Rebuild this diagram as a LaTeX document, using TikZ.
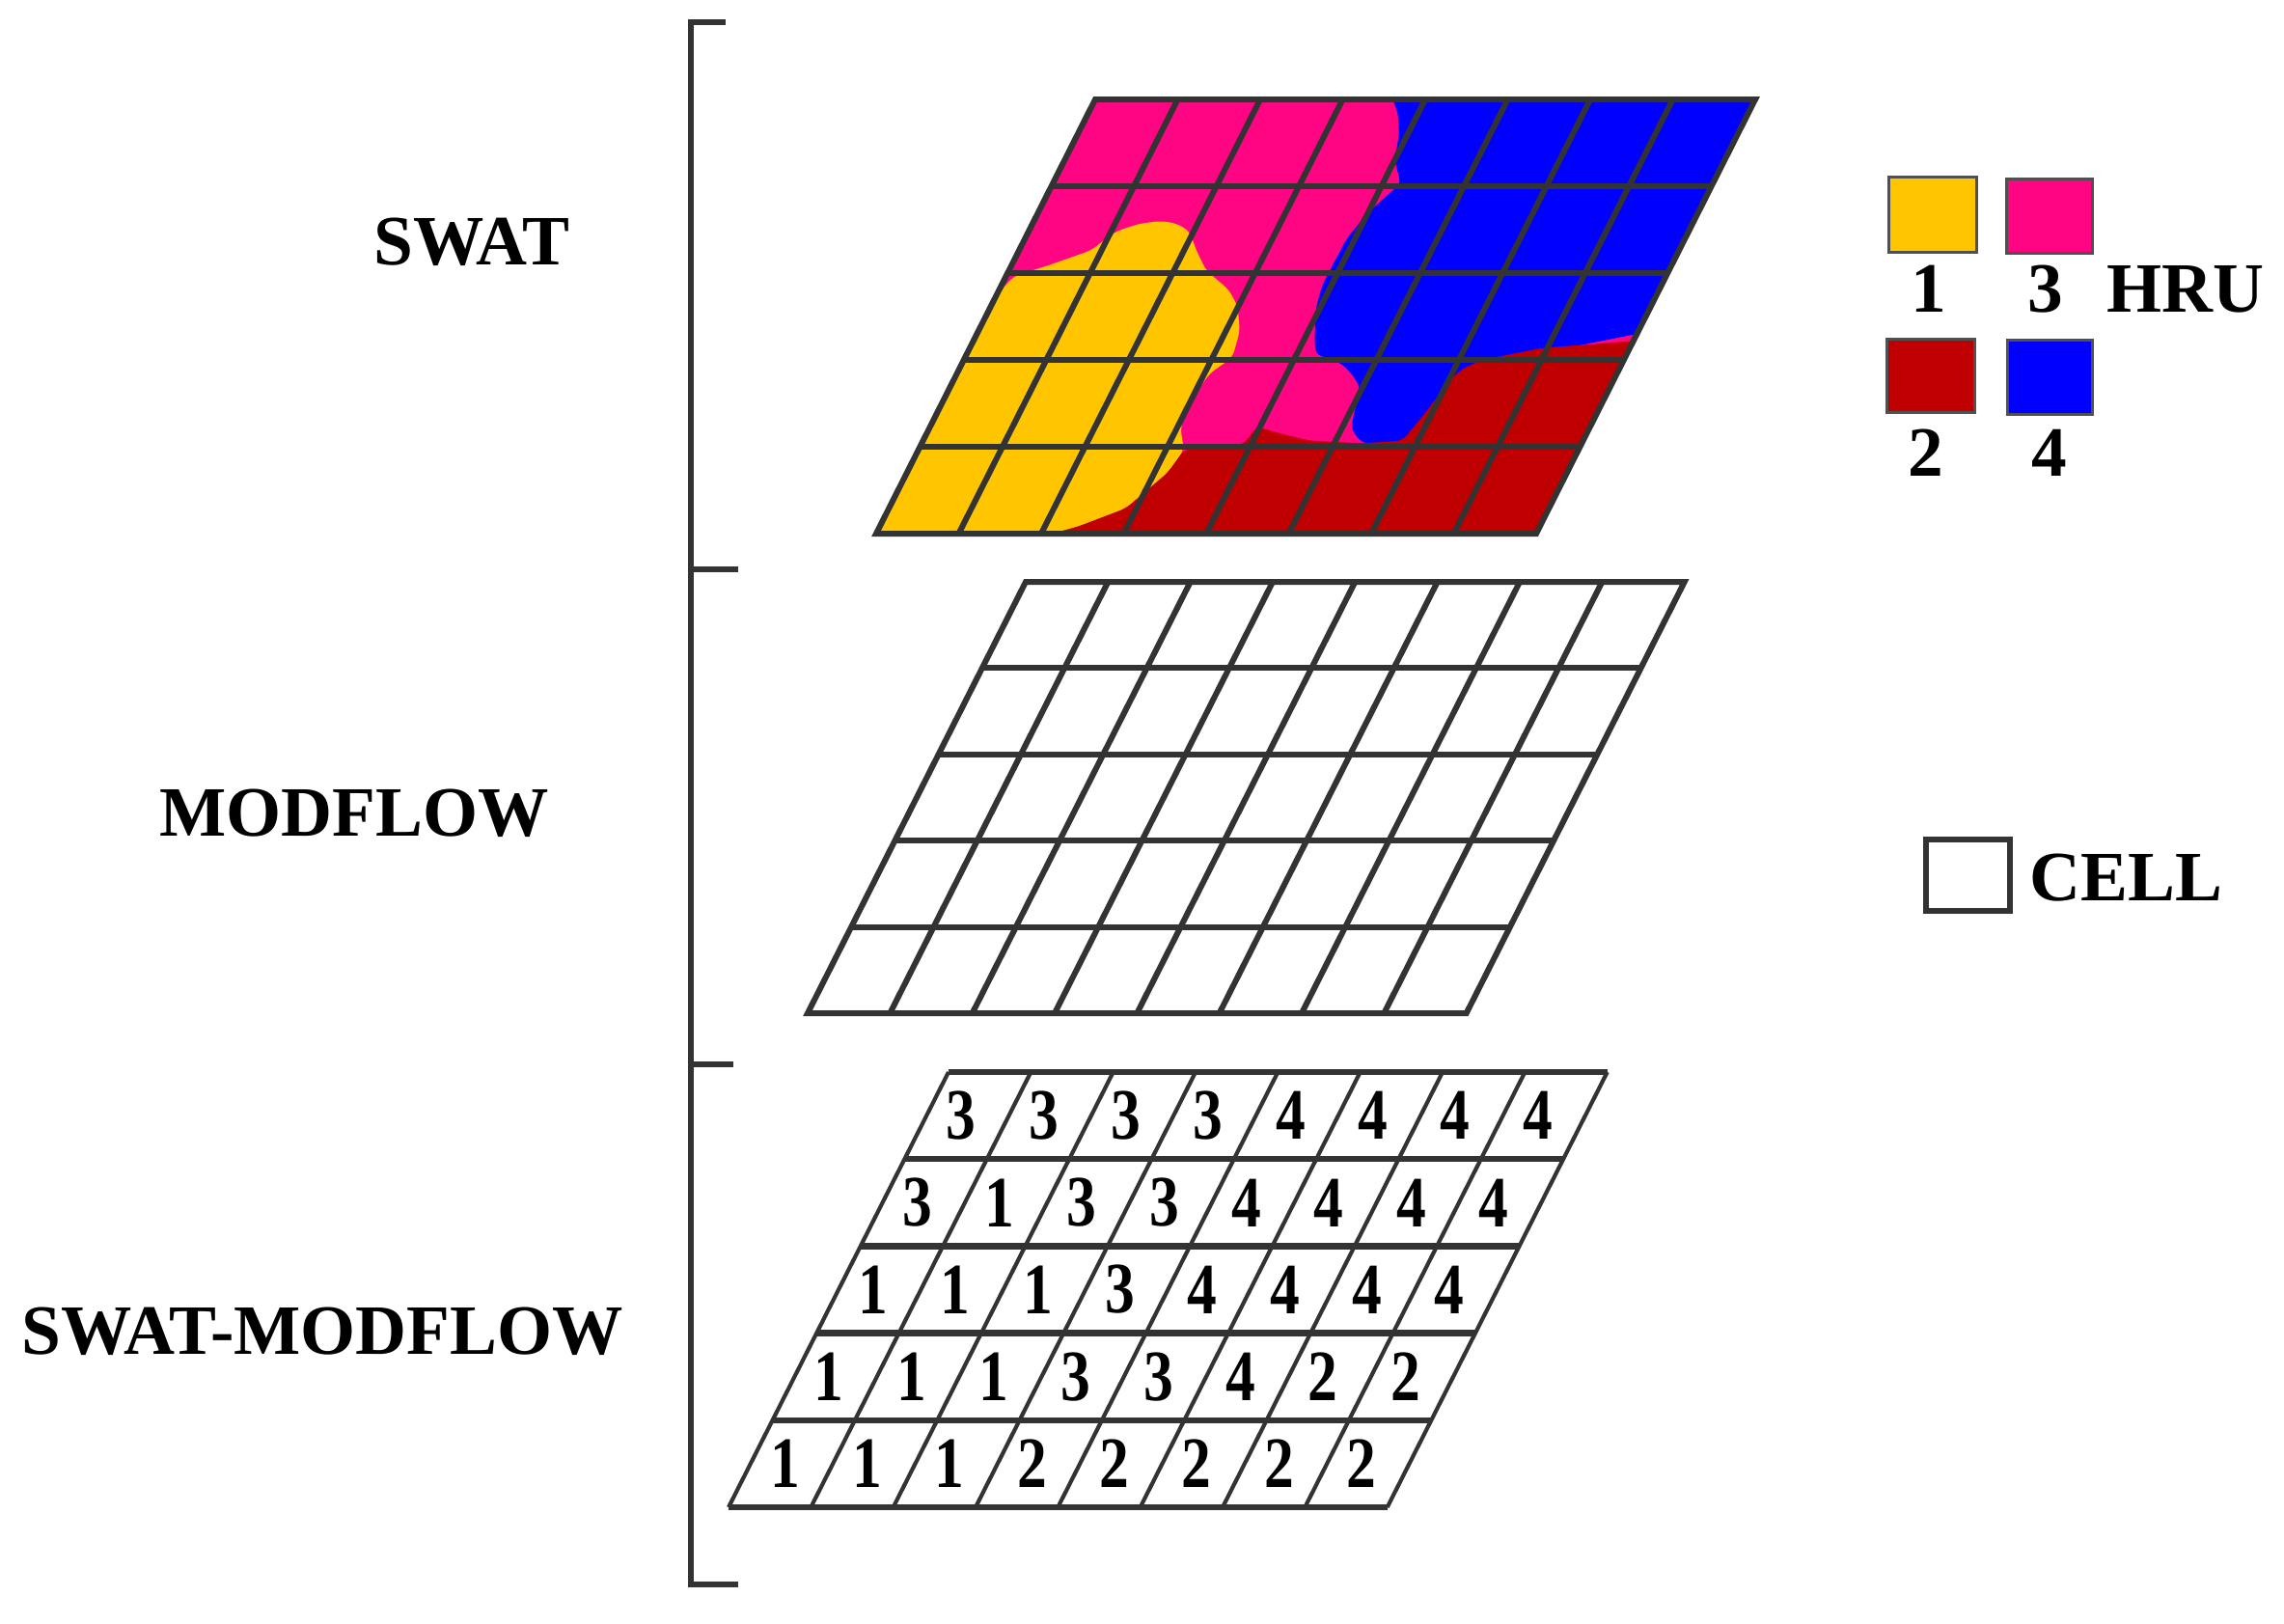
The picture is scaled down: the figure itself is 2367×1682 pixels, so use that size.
\documentclass[tikz,border=0pt]{standalone}
\usepackage{fontspec}
\usepackage{graphicx}
\setmainfont{Liberation Serif}
\definecolor{gline}{HTML}{333333}
\definecolor{sqline}{HTML}{505050}
\definecolor{hyel}{HTML}{FFC600}
\definecolor{hpink}{HTML}{FF0583}
\definecolor{hred}{HTML}{C00000}
\definecolor{hblue}{HTML}{0000FF}
\tikzset{
  lbl/.style={font=\fontsize{22}{24}\selectfont\bfseries, inner sep=0pt, anchor=base},
  num/.style={font=\fontsize{22.5}{24}\selectfont\bfseries, inner sep=0pt},
  gridline/.style={draw=gline, line width=1.8pt},
  hgrid/.style={draw=gline, line width=1.9pt},
  vgrid/.style={draw=gline, line width=1.25pt},
  bracket/.style={draw=gline, line width=1.8pt},
  hrusq/.style={draw=sqline, line width=0.9pt},
  cellsq/.style={draw=gline, line width=1.8pt},
  region/.style={rounded corners=2pt}
}
\begin{document}
\begin{tikzpicture}[x=0.3pt,y=-0.3pt]
\useasboundingbox (0,0) rectangle (2367,1682);
\fill[white] (0,0) rectangle (2367,1682);

% bracket
\draw[bracket] (752,23) -- (716,23) -- (716,1642) -- (765,1642);
\draw[bracket] (716,590) -- (765,590);
\draw[bracket] (716,1103) -- (760,1103);

% labels
\node[lbl] (swat) at (489,274) {SWAT};
\node[lbl] (modflow) at (367,866) {MODFLOW};
\node[lbl] (swatmod) at (334,1403) {SWAT-MODFLOW};

% ---------- top grid (SWAT, HRUs) ----------
\begin{scope}[shift={(1135,103)}, x={(25.65pt,0pt)}, y={(-13.62pt,-27pt)}]
  \begin{scope}
    \clip (0,0) -- (8,0) -- (8,5) -- (0,5) -- cycle;
    \fill[hpink] (0,0) -- (8,0) -- (8,5) -- (0,5) -- cycle;
    \fill[hblue, region] (3.6,-0.5) -- (3.6,0) -- (3.75,0.15) -- (3.9,0.41) -- (4.0,0.7) -- (4.22,0.97)
      -- (4.12,1.11) -- (3.99,1.33) -- (3.9,1.6) -- (3.89,1.93) -- (3.89,2.15) -- (3.95,2.4)
      -- (4.08,2.67) -- (4.22,2.93) -- (4.6,3.04) -- (4.83,3.19) -- (5.0,3.35) -- (5.05,3.6)
      -- (5.12,3.8) -- (5.34,3.96) -- (6.0,3.96) -- (6.1,3.1) -- (8,2.7) -- (8.5,2.7) -- (8.5,-0.5) -- cycle;
    \fill[hyel, region] (1.3,1.43) -- (1.54,1.40) -- (1.75,1.43) -- (1.95,1.52) -- (2.15,1.74)
      -- (2.39,1.97) -- (2.78,2.19) -- (2.99,2.38) -- (3.17,2.67) -- (3.24,2.97) -- (3.06,3.16)
      -- (3.0,3.49) -- (3.04,3.78) -- (3.22,4.04) -- (3.16,4.3) -- (2.87,4.71) -- (2.4,4.92)
      -- (2.13,5.0) -- (2.13,5.5) -- (-0.5,5.5) -- (-0.5,2.27) -- (0,2.27) -- (0.09,2.04)
      -- (0.45,1.91) -- (0.87,1.74) -- (1.06,1.52) -- cycle;
    \fill[hred, region] (2.13,5.0) -- (2.4,4.92) -- (2.87,4.71) -- (3.16,4.3) -- (3.22,4.04)
      -- (3.5,3.98) -- (3.9,3.98) -- (3.96,3.77) -- (4.3,3.85) -- (4.69,3.93) -- (5.34,3.96)
      -- (5.81,3.93) -- (5.9,3.67) -- (5.96,3.45) -- (6.0,3.25) -- (6.1,3.1) -- (6.25,3.02)
      -- (6.43,2.97) -- (6.95,2.86) -- (7.52,2.82) -- (8,2.78) -- (8.5,2.78) -- (8.5,5.5)
      -- (2.13,5.5) -- cycle;
  \end{scope}
  \foreach \i in {1,...,4} \draw[gridline] (0,\i) -- (8,\i);
  \foreach \j in {1,...,7} \draw[gridline] (\j,0) -- (\j,5);
  \draw[gridline, line join=miter] (0,0) -- (8,0) -- (8,5) -- (0,5) -- cycle;
\end{scope}

% ---------- middle grid (MODFLOW) ----------
\begin{scope}[shift={(1063,603)}, x={(25.6pt,0pt)}, y={(-13.56pt,-26.82pt)}]
  \foreach \i in {1,...,4} \draw[gridline] (0,\i) -- (8,\i);
  \foreach \j in {1,...,7} \draw[gridline] (\j,0) -- (\j,5);
  \draw[gridline, line join=miter] (0,0) -- (8,0) -- (8,5) -- (0,5) -- cycle;
\end{scope}

% ---------- bottom grid (SWAT-MODFLOW) ----------
\begin{scope}[shift={(983,1111)}, x={(25.6pt,0pt)}, y={(-13.68pt,-27.06pt)}]
  \foreach \j in {1,...,7} \draw[vgrid] (\j,0) -- (\j,5);
  \draw[vgrid] (0,0) -- (0,5);
  \draw[vgrid] (8,0) -- (8,5);
  \foreach \i in {0,...,5} \draw[hgrid] (0,\i) -- (8,\i);
  \foreach \row [count=\r] in {{3,3,3,3,4,4,4,4},{3,1,3,3,4,4,4,4},{1,1,1,3,4,4,4,4},{1,1,1,3,3,4,2,2},{1,1,1,2,2,2,2,2}}{
    \foreach \d [count=\c] in \row {
      \node[num] (n\r-\c) at ({\c-0.58},{\r-0.5}) {\scalebox{0.82}[1]{\d}};
    }
  }
\end{scope}

% ---------- HRU legend ----------
\filldraw[hrusq, fill=hyel]  (1957,183) rectangle (2048,261);
\filldraw[hrusq, fill=hpink] (2079,185) rectangle (2168,262);
\filldraw[hrusq, fill=hred]  (1955,351) rectangle (2046,427);
\filldraw[hrusq, fill=hblue] (2080,352) rectangle (2168,429);
\node[lbl] (l1) at (1999,323) {1};
\node[lbl] (l3) at (2120,323) {3};
\node[lbl, anchor=base west] (hru) at (2183,323) {HRU};
\node[lbl] (l2) at (1996,493) {2};
\node[lbl] (l4) at (2124,493) {4};

% ---------- CELL legend ----------
\draw[cellsq] (1996,870) rectangle (2083,944);
\node[lbl, anchor=base west] (cell) at (2103,933) {CELL};
\end{tikzpicture}
\end{document}
